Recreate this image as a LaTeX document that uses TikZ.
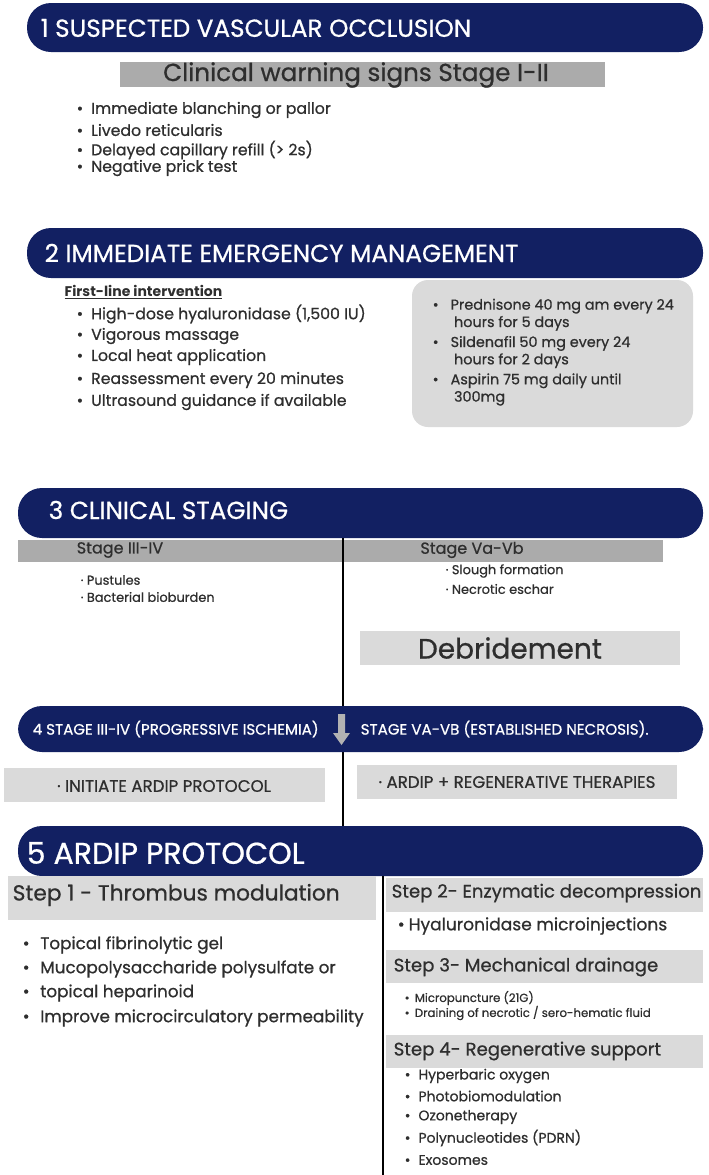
\documentclass[tikz,border=0pt]{standalone}
\usepackage{fontspec}
\setmainfont{Poppins}[BoldFont=Poppins,BoldFeatures={FakeBold=0.7}]
\newfontfamily\realbold{Poppins}[UprightFont=*-Bold]
\begin{document}
\begin{tikzpicture}[x=0.75pt,y=-0.75pt,
 hdr/.style={fill=navy,rounded corners=18pt},
 htxt/.style={text=white,anchor=west,font=\bfseries\fontsize{18.5}{22}\selectfont},
 lbox/.style={fill=lgray},
 item/.style={anchor=west,text=txt,font=\bfseries\fontsize{11.8}{14}\selectfont},
 sm/.style={anchor=west,text=txt,font=\bfseries\fontsize{9.7}{11}\selectfont}]
\definecolor{navy}{HTML}{122062}
\definecolor{lgray}{HTML}{DADADA}
\definecolor{mgray}{HTML}{ABABAB}
\definecolor{txt}{HTML}{2E2E2E}
\useasboundingbox (0,0) rectangle (709,1175);
% 1
\fill[hdr] (27,3) rectangle (703,52);
\node[htxt] (h1) at (36,28) {1 SUSPECTED VASCULAR OCCLUSION};
\fill[mgray] (120,62) rectangle (605,87);
\node[text=txt,font=\bfseries\fontsize{18.5}{20}\selectfont] (w) at (356,75) {Clinical warning signs Stage I-II};
\foreach \y/\t [count=\i] in {110/Immediate blanching or pallor,130/Livedo reticularis,150/Delayed capillary refill (> 2s),168/Negative prick test}
 \node[item] (a\i) at (72,\y) {•\hspace{6pt}\t};
% 2
\fill[hdr] (27,228) rectangle (703,278);
\node[htxt] (h2) at (40,253) {2 IMMEDIATE EMERGENCY MANAGEMENT};
\node[anchor=west,text=txt,font=\realbold\fontsize{10.5}{12}\selectfont] (fl) at (60,292) {\underline{First-line intervention}};
\foreach \y/\t [count=\i] in {314/High-dose hyaluronidase (1{,}500 IU),336/Vigorous massage,357/Local heat application,380/Reassessment every 20 minutes,402/Ultrasound guidance if available}
 \node[item] (b\i) at (72,\y) {•\hspace{6pt}\t};
\fill[lgray,rounded corners=12pt] (412,280) rectangle (693,427);
\node[item,align=left,anchor=north west,font=\bfseries\fontsize{10.8}{13}\selectfont] (rx) at (428,294) {•\hspace{9pt}Prednisone 40 mg am every 24\\\hspace{16pt}hours for 5 days\\[2pt]•\hspace{9pt}Sildenafil 50 mg every 24\\\hspace{16pt}hours for 2 days\\[2pt]•\hspace{9pt}Aspirin 75 mg daily until\\\hspace{16pt}300mg};
% 3
\fill[hdr] (18,488) rectangle (703,538);
\node[htxt] (h3) at (44,510) {3 CLINICAL STAGING};
\fill[mgray] (18,540) rectangle (663,562);
\node[text=txt,font=\bfseries\fontsize{12}{13}\selectfont] (s1) at (120,550) {Stage III-IV};
\node[text=txt,font=\bfseries\fontsize{12}{13}\selectfont] (s2) at (472,550) {Stage Va-Vb};
\coordinate (v1) at (343,538); \coordinate (v2) at (343,826);
\draw[line width=2.2pt] (v1) -- (v2);
\node[sm] (p1) at (76,580) {· Pustules};
\node[sm] (p2) at (76,597) {· Bacterial bioburden};
\node[sm] (p3) at (441,571) {· Slough formation};
\node[sm] (p4) at (441,589) {· Necrotic eschar};
\fill[lgray] (360,631) rectangle (680,665);
\node[text=txt,font=\bfseries\fontsize{21}{24}\selectfont] (deb) at (510,648) {Debridement};
% 4
\fill[hdr] (18,706) rectangle (703,752);
\node[htxt,font=\bfseries\fontsize{11.3}{13}\selectfont] (h4a) at (28,729) {4 STAGE III-IV (PROGRESSIVE ISCHEMIA)};
\node[htxt,font=\bfseries\fontsize{11.3}{13}\selectfont] (h4b) at (356,729) {STAGE VA-VB (ESTABLISHED NECROSIS).};
\fill[gray!60] (338,714) rectangle (345,733) (333,733) -- (350,733) -- (341.5,745) -- cycle;
\fill[lgray] (4,768) rectangle (325,802);
\node[text=txt,font=\bfseries\fontsize{12.5}{14}\selectfont] (i1) at (164,786) {· INITIATE ARDIP PROTOCOL};
\fill[lgray] (357,765) rectangle (677,799);
\node[text=txt,font=\bfseries\fontsize{12.5}{14}\selectfont] (i2) at (517,782) {· ARDIP + REGENERATIVE THERAPIES};
% 5
\fill[hdr] (18,826) rectangle (703,876);
\node[htxt,font=\bfseries\fontsize{22.5}{26}\selectfont] (h5) at (22,853) {5 ARDIP PROTOCOL};
\coordinate (w1) at (383,876); \coordinate (w2) at (383,1175);
\draw[line width=2.2pt] (w1) -- (w2);
\fill[lgray] (8,876) rectangle (376,920);
\node[text=txt,anchor=west,font=\bfseries\fontsize{16.3}{18}\selectfont] (st1) at (8,895) {Step 1 - Thrombus modulation};
\foreach \y/\t [count=\i] in {945/Topical fibrinolytic gel,969/Mucopolysaccharide polysulfate or,993/topical heparinoid,1018/Improve microcirculatory permeability}
 \node[item,font=\bfseries\fontsize{12.6}{14}\selectfont] (c\i) at (18,\y) {•\hspace{8pt}\t};
\fill[lgray] (386,878) rectangle (703,912);
\node[text=txt,anchor=west,font=\bfseries\fontsize{13.6}{15}\selectfont] (st2) at (387,893) {Step 2- Enzymatic decompression};
\node[item,font=\bfseries\fontsize{12.8}{14}\selectfont] (hy) at (393,926) {•\hspace{3pt}Hyaluronidase microinjections};
\fill[lgray] (386,950) rectangle (703,983);
\node[text=txt,anchor=west,font=\bfseries\fontsize{13.6}{15}\selectfont] (st3) at (389,967) {Step 3- Mechanical drainage};
\node[sm,font=\bfseries\fontsize{8.8}{10}\selectfont] (m1) at (400,998) {•\hspace{4pt}Micropuncture (21G)};
\node[sm,font=\bfseries\fontsize{8.8}{10}\selectfont] (m2) at (400,1013) {•\hspace{4pt}Draining of necrotic / sero-hematic fluid};
\fill[lgray] (386,1035) rectangle (703,1068);
\node[text=txt,anchor=west,font=\bfseries\fontsize{13.6}{15}\selectfont] (st4) at (389,1051) {Step 4- Regenerative support};
\foreach \y/\t [count=\i] in {1076/Hyperbaric oxygen,1096/Photobiomodulation,1117/Ozonetherapy,1138/Polynucleotides (PDRN),1160/Exosomes}
 \node[item,font=\bfseries\fontsize{10.5}{12}\selectfont] (r\i) at (400,\y) {•\hspace{6pt}\t};
\end{tikzpicture}
\end{document}
